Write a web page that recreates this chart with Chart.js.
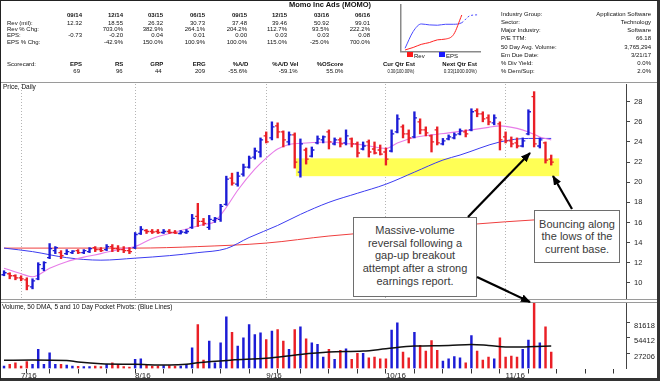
<!DOCTYPE html>
<html>
<head>
<meta charset="utf-8">
<script src="https://cdn.jsdelivr.net/npm/chart.js@4.4.1/dist/chart.umd.min.js"></script>
<style>
html,body{margin:0;padding:0;background:#fff;}
#wrap{position:relative;width:660px;height:381px;overflow:hidden;background:#fff;font-family:"Liberation Sans",Arial,sans-serif;color:#111;}
#wrap canvas{position:absolute;}
.t{position:absolute;white-space:nowrap;line-height:1;}
.hl{position:absolute;left:0;width:660px;height:1px;background:#9a9a9a;}
.box{position:absolute;background:#fff;border:1.5px solid #6e6e6e;box-sizing:border-box;text-align:center;font-size:11px;color:#3a3a3a;}
#frame{position:absolute;left:0;top:0;width:660px;height:381px;box-sizing:border-box;border-left:1px solid #222;border-top:1px solid #222;border-right:3px solid #333;border-bottom:3px solid #333;pointer-events:none;}
</style>
</head>
<body>
<div id="wrap">
  <canvas id="mini" width="90" height="52" style="left:396px;top:2px;width:90px;height:52px"></canvas>
  <canvas id="price" width="660" height="216" style="left:0;top:83px;width:660px;height:216px"></canvas>
  <canvas id="vol" width="660" height="81" style="left:0;top:300px;width:660px;height:81px"></canvas>
  <div class="hl" style="top:82px"></div>
  <div class="hl" style="top:299px"></div>
  <div class="hl" style="top:302px"></div>
  <div class="box" style="left:353px;top:217px;width:124px;height:80px;padding-top:6px;line-height:12.7px">Massive-volume<br>reversal following a<br>gap-up breakout<br>attempt after a strong<br>earnings report.</div>
  <div class="box" style="left:534px;top:210px;width:86px;height:53px;padding-top:6.5px;line-height:12.5px">Bouncing along<br>the lows of the<br>current base.</div>
  <svg width="660" height="381" style="position:absolute;left:0;top:0">
    <defs><marker id="ah" markerWidth="10" markerHeight="8" refX="9" refY="4" orient="auto" markerUnits="userSpaceOnUse"><path d="M0,0 L10,4 L0,8 z" fill="#000"/></marker></defs>
    <line x1="468" y1="217" x2="530" y2="153" stroke="#000" stroke-width="2.2" marker-end="url(#ah)"/>
    <line x1="477" y1="277" x2="530" y2="302" stroke="#000" stroke-width="2.2" marker-end="url(#ah)"/>
    <line x1="572" y1="209" x2="553" y2="176" stroke="#000" stroke-width="2.2" marker-end="url(#ah)"/>
  </svg>
  <div id="frame"></div>
</div>
<script>
// ---------------- DATA ----------------
const quarters = ['09/14','12/14','03/15','06/15','09/15','12/15','03/16','06/16'];
const revMil = [12.32,18.55,26.32,30.73,37.48,39.46,50.92,99.01];
const revChg = ['','703.0%','382.9%','264.1%','204.2%','112.7%','93.5%','222.2%'];
const epsQ = [-0.73,-0.20,0.04,0.01,0.00,0.03,0.03,0.08];
const epsChg = ['','-42.9%','150.0%','100.9%','100.0%','115.0%','-25.0%','700.0%'];
const epsEst = [0.30,0.33];
const scoreLabels = ['EPS','RS','GRP','ERG','%A/D','%A/D Vel','%OScore','Cur Qtr Est','Next Qtr Est'];
const scoreValues = ['69','96','44','209','-55.6%','-59.1%','55.0%','0.30(100.00%)','0.33(1000.00%)'];
const infoLabels = ['Industry Group:','Sector:','Major Industry:','P/E TTM:','50 Day Avg. Volume:','Em Due Date:','% Div Yield:','% Dem/Sup:'];
const infoValues = ['Application Software','Technology','Software','66.18','3,765,294','3/21/17','0.0%','2.0%'];

const dates = [
'06/28','06/29','06/30','07/01','07/05','07/06','07/07','07/08','07/11','07/12',
'07/13','07/14','07/15','07/18','07/19','07/20','07/21','07/22','07/25','07/26',
'07/27','07/28','07/29','08/01','08/02','08/03','08/04','08/05','08/08','08/09',
'08/10','08/11','08/12','08/15','08/16','08/17','08/18','08/19','08/22','08/23',
'08/24','08/25','08/26','08/29','08/30','08/31','09/01','09/02','09/06','09/07',
'09/08','09/09','09/12','09/13','09/14','09/15','09/16','09/19','09/20','09/21',
'09/22','09/23','09/26','09/27','09/28','09/29','09/30','10/03','10/04','10/05',
'10/06','10/07','10/10','10/11','10/12','10/13','10/14','10/17','10/18','10/19',
'10/20','10/21','10/24','10/25','10/26','10/27','10/28','10/31','11/01','11/02',
'11/03','11/04','11/07','11/08','11/09','11/10','11/11',
'11/14','11/15','11/16','11/17','11/18','11/21','11/22','11/23','11/24','11/25','11/28','11/29','11/30','12/01','12/02'];

const open = [10.8,10.9,10.7,10.5,10.3,9.6,10.4,11.4,12.5,13.2,
 13.0,12.9,13.0,13.2,13.0,13.1,13.5,13.3,13.3,13.6,
 13.4,13.3,13.2,13.5,14.9,15.2,15.1,15.1,15.0,15.1,
 15.0,14.9,15.0,15.5,16.6,16.1,15.5,16.2,16.3,17.8,
 20.4,19.8,20.8,21.5,22.5,23.0,24.6,24.4,25.6,25.0,
 24.0,24.7,21.0,23.2,22.6,23.9,24.2,25.0,23.8,24.2,
 23.9,24.3,23.8,23.3,24.0,23.3,23.2,23.0,23.1,25.0,
 25.5,24.8,24.5,26.0,25.2,24.6,25.2,23.8,24.3,24.4,
 24.8,25.0,25.2,27.1,26.8,26.4,25.9,25.8,24.5,24.1,
 23.9,23.6,24.8,28.5,23.6,23.9,22.3];
const high = [11.2,11.0,10.8,10.7,10.5,10.4,12.0,12.1,13.9,13.6,
 13.2,13.3,13.2,13.3,13.3,13.5,13.6,13.5,13.8,13.8,
 13.7,13.6,13.5,15.0,15.6,15.3,15.3,15.3,15.3,15.3,
 15.2,15.2,15.3,16.8,17.9,16.4,16.7,16.5,17.8,20.6,
 20.9,21.0,21.8,22.6,23.4,24.4,25.0,26.0,25.9,25.1,
 25.0,24.9,24.3,23.4,23.5,24.6,24.6,25.2,24.4,24.4,
 25.2,24.4,24.0,24.0,24.2,24.0,23.7,23.4,25.2,26.7,
 25.7,25.2,27.0,26.3,25.5,24.7,25.5,24.35,24.7,24.9,
 25.3,25.2,27.3,27.3,27.0,26.7,26.7,26.0,25.0,24.5,
 24.4,24.4,27.2,29.0,24.4,24.0,22.7];
const low = [10.7,10.4,10.3,10.2,9.3,9.4,10.3,11.2,12.4,12.9,
 12.4,12.8,12.9,12.9,12.9,13.0,13.1,13.1,13.2,13.1,
 13.1,13.0,12.9,13.4,14.8,14.9,14.9,14.9,14.9,14.9,
 14.9,14.85,14.9,15.4,15.6,15.7,15.3,16.0,16.1,17.7,
 19.7,19.6,20.6,21.4,22.3,22.5,23.9,24.2,24.4,23.5,
 23.7,21.4,20.5,21.8,22.5,23.8,23.9,23.3,23.7,23.5,
 23.7,23.5,22.5,23.2,22.5,22.8,22.7,21.7,23.0,24.9,
 24.4,23.9,24.4,24.8,24.6,23.0,23.7,23.7,24.2,24.3,
 24.7,24.5,25.1,26.5,26.0,25.7,25.7,23.2,23.9,23.5,
 23.4,23.5,24.7,23.5,23.4,21.9,21.7];
const close = [11.0,10.7,10.5,10.4,9.7,10.2,11.8,12.0,13.4,13.5,
 12.7,13.1,13.15,13.0,13.2,13.4,13.3,13.2,13.6,13.4,
 13.3,13.2,13.1,14.8,15.3,15.1,15.05,15.0,15.1,15.0,
 14.95,15.05,15.1,16.4,16.1,15.9,16.3,16.4,17.6,20.3,
 19.9,20.6,21.5,22.4,23.1,24.2,24.0,25.5,25.0,24.2,
 24.7,22.0,23.8,22.3,23.2,24.3,24.5,24.0,24.2,23.8,
 24.6,23.8,22.9,23.6,23.0,22.9,22.8,22.3,24.8,26.3,
 24.8,24.4,26.4,25.2,24.9,24.0,23.9,24.1,24.5,24.7,
 25.1,24.8,27.0,26.8,26.3,26.0,26.4,24.2,24.1,23.8,
 23.6,24.1,27.0,23.8,24.2,22.2,22.0];
// volume in hundreds of shares
const volume = [4400,7300,10200,4400,12000,7300,33600,7300,27800,7300,
 7300,6000,4400,4000,3500,3500,4400,3200,7300,10200,
 7300,3500,2500,16100,17200,7300,4400,4400,5000,5000,
 4400,4400,7300,36600,77500,14900,48300,10000,45300,90900,
 64000,39500,54100,77500,60000,62900,51200,65800,68700,48300,
 33600,68700,73400,52300,45300,42400,20200,33600,16100,31900,
 34800,16100,26600,26600,19000,20200,17200,17200,67600,80400,
 29000,19000,64000,40700,30700,49400,31900,13200,17200,20800,
 19000,10200,58200,30700,14900,20200,17200,54100,20200,21900,
 20200,33600,50000,130000,45300,73400,29000];

// moving averages (bar index, value)
const pinkMaIdx = [0,3,5,8,11,14,17,20,23,26,29,32,35,37,39,41,44,46,48,50,53,57,60,63,67,69,72,75,78,82,85,87,90,92,94,96];
const pinkMa = [11.45,10.9,10.6,11.45,12.1,12.55,12.9,13.3,13.6,14.4,14.9,15.35,15.8,16.1,17.5,19.2,21.3,22.4,23.3,23.75,23.9,24.0,23.85,23.7,23.35,23.9,24.45,24.7,24.9,25.2,25.45,25.6,25.35,25.0,24.5,24.2];
const ma50Idx = [0,5,11,17,23,29,34,39,43,48,52,57,62,67,72,77,80,87,92,96];
const ma50 = [13.45,13.1,12.5,12.25,12.45,12.7,13.0,13.4,14.5,15.7,16.8,18.0,18.9,19.8,21.0,22.2,22.7,24.0,24.35,24.35];
const ma200Idx = [0,23,34,46,57,75,83,93,96];
const ma200 = [13.45,13.45,13.6,13.95,14.65,15.5,15.85,16.25,16.3];
const volMaIdx = [0,5,11,13,17,23,29,32,34,40,46,52,57,63,67,72,78,82,85,89,92,96];
const volMa = [14400,14900,14000,11500,8400,7400,6100,7400,10200,14900,17900,24900,29000,30700,34700,39500,40700,42500,40700,37700,38300,39500];

const monthLabels = ['7/16','8/16','9/16','10/16','11/16'];
const priceTicks = [10,12,14,16,18,20,22,24,26,28];
const volTicks = [27206,54412,81618];
const baseZone = {from: 51.2, to: 97.4, low: 20.6, high: 22.37};

// ---------------- HEADER TEXT ----------------
const wrap = document.getElementById('wrap');
function txt(s, x, y, o) {
  o = o || {};
  const size = o.size || 6;
  const d = document.createElement('div');
  d.className = 't';
  d.textContent = s;
  d.style.fontSize = size + 'px';
  if (o.bold) d.style.fontWeight = 'bold';
  if (o.color) d.style.color = o.color;
  d.style.top = (y - size * 0.5) + 'px';
  const align = o.align || 'left';
  let tf = '';
  if (align === 'left') { d.style.left = x + 'px'; d.style.transformOrigin = 'left center'; }
  else if (align === 'right') { d.style.right = (660 - x) + 'px'; d.style.transformOrigin = 'right center'; }
  else { d.style.left = x + 'px'; tf = 'translateX(-50%) '; d.style.transformOrigin = 'center'; }
  wrap.insertBefore(d, document.getElementById('frame'));
  if (o.w) { const w = d.getBoundingClientRect().width; tf += 'scaleX(' + (o.w / w) + ')'; }
  if (tf) d.style.transform = tf;
}
txt('Momo Inc Ads (MOMO)', 330, 5, {bold: true, size: 7.5, align: 'center'});
const colRight = [82,123,163,205,247,287,329,370];
quarters.forEach((q, k) => txt(q, colRight[k], 15, {bold: true, align: 'right'}));
const rowY = [22.5, 29, 35.3, 41.5];
['Rev (mil):','Rev % Chg:','EPS:','EPS % Chg:'].forEach((l, r) => txt(l, 7, rowY[r]));
revMil.forEach((v, k) => txt(v.toFixed(2), colRight[k], rowY[0], {align: 'right'}));
revChg.forEach((v, k) => v && txt(v, colRight[k], rowY[1], {align: 'right'}));
epsQ.forEach((v, k) => txt(v.toFixed(2), colRight[k], rowY[2], {align: 'right'}));
epsChg.forEach((v, k) => v && txt(v, colRight[k], rowY[3], {align: 'right'}));
txt('Scorecard:', 7, 64);
const scLblRight = [82,123.3,163.3,205.7,248.3,298.3,343.3,415,477];
const scValRight = [80,122.7,161.7,205,247.3,297.7,343.3,414,477];
const scValW = [0,0,0,0,0,0,0,27,33];
scoreLabels.forEach((l, k) => txt(l, scLblRight[k], 64, {bold: true, align: 'right'}));
scoreValues.forEach((v, k) => txt(v, scValRight[k], 71.3, {align: 'right', w: scValW[k] || undefined}));
infoLabels.forEach((l, k) => txt(l, 501, 14 + k * 8.15));
infoValues.forEach((v, k) => txt(v, 651, 14 + k * 8.15, {align: 'right'}));
// mini legend
function sq(x, c) { const d = document.createElement('div'); d.style.cssText = 'position:absolute;left:' + x + 'px;top:51.5px;width:6px;height:5.5px;background:' + c; wrap.insertBefore(d, document.getElementById('frame')); }
sq(407, '#ff1a1a'); txt('Rev', 414, 55.5); sq(439, '#1a1aff'); txt('EPS', 446, 55.5);
txt('Price, Daily', 3, 86.8, {size: 6.5});
txt('Volume, 50 DMA, 5 and 10 Day Pocket Pivots: (Blue Lines)', 2, 307.7, {size: 6.5});

// ---------------- CHARTS ----------------
Chart.defaults.font.family = '"Liberation Sans", Arial, sans-serif';
Chart.defaults.color = '#222';
const BLUE = '#1c1cd6', RED = '#ea1f26';
const barColors = close.map((c, i) => c >= (i ? close[i - 1] : open[i]) ? BLUE : RED);
const xMin = -0.53, xMax = 109.12;
const monthIdx = monthLabels.map(l => dates.findIndex(d => parseInt(d, 10) === parseInt(l, 10)));
const dow = d => new Date(2016, parseInt(d.slice(0, 2), 10) - 1, parseInt(d.slice(3), 10)).getDay();
const weekIdx = [];
dates.forEach((d, i) => { if (i > 0 && dow(d) < dow(dates[i - 1]) && i <= xMax) weekIdx.push(i); });
const xTickVals = Array.from(new Set(monthIdx.concat(weekIdx))).sort((a, b) => a - b);
const pts = (idx, vals) => idx.map((x, k) => ({x: x, y: vals[k]}));

const zonePlugin = {
  id: 'zone',
  beforeDatasetsDraw(chart) {
    const {ctx, scales: {x, y}} = chart;
    const x0 = x.getPixelForValue(baseZone.from), x1 = x.getPixelForValue(baseZone.to);
    const y0 = y.getPixelForValue(baseZone.high), y1 = y.getPixelForValue(baseZone.low);
    ctx.save(); ctx.fillStyle = '#ffff55'; ctx.fillRect(x0, y0, x1 - x0, y1 - y0); ctx.restore();
  }
};
const ohlcTicks = {
  id: 'ohlcTicks',
  afterDatasetsDraw(chart) {
    const meta = chart.getDatasetMeta(0);
    const y = chart.scales.y, ctx = chart.ctx;
    ctx.save();
    ctx.lineWidth = 1.3;
    meta.data.forEach((el, i) => {
      const yo = y.getPixelForValue(open[i]), yc = y.getPixelForValue(close[i]);
      ctx.strokeStyle = barColors[i];
      ctx.beginPath();
      ctx.moveTo(el.x - 2.6, yo); ctx.lineTo(el.x, yo);
      ctx.moveTo(el.x, yc); ctx.lineTo(el.x + 2.6, yc);
      ctx.stroke();
    });
    ctx.restore();
  }
};

const commonOpts = {
  responsive: false, animation: false, events: [], devicePixelRatio: 1,
  plugins: {legend: {display: false}, tooltip: {enabled: false}},
};

new Chart(document.getElementById('price'), {
  type: 'bar',
  data: {
    datasets: [
      {type: 'bar', data: close.map((c, i) => ({x: i, y: [low[i], high[i]]})), backgroundColor: barColors, borderWidth: 0, barThickness: 1.7, order: 0},
      {type: 'line', data: pts(pinkMaIdx, pinkMa), borderColor: '#e77de8', borderWidth: 1.1, pointRadius: 0, cubicInterpolationMode: 'monotone', order: 1},
      {type: 'line', data: pts(ma50Idx, ma50), borderColor: '#3c3cf0', borderWidth: 1, pointRadius: 0, cubicInterpolationMode: 'monotone', order: 1},
      {type: 'line', data: pts(ma200Idx, ma200), borderColor: '#ef3f3f', borderWidth: 1, pointRadius: 0, cubicInterpolationMode: 'monotone', order: 1}
    ]
  },
  options: Object.assign({}, commonOpts, {
    layout: {padding: {left: 1, top: 1, right: 0, bottom: 1}, autoPadding: false},
    scales: {
      x: {type: 'linear', min: xMin, max: xMax, bounds: 'data', offset: false,
        afterBuildTicks: s => { s.ticks = monthIdx.map(v => ({value: v})); },
        afterFit: s => { s.height = 0; s.paddingLeft = 0; s.paddingRight = 0; },
        ticks: {display: false, autoSkip: false},
        grid: {offset: false, drawTicks: false, color: '#b4b4b4', lineWidth: 1},
        border: {display: false, dash: [1, 2]}},
      y: {type: 'linear', position: 'right', min: 8.49, max: 29.76, bounds: 'data',
        afterBuildTicks: s => { s.ticks = priceTicks.map(v => ({value: v})); },
        afterFit: s => { s.width = 34; s.paddingTop = 0; s.paddingBottom = 0; },
        ticks: {font: {size: 7.5}, color: '#222', padding: 4, autoSkip: false, callback: v => String(v)},
        grid: {drawOnChartArea: false, drawTicks: true, tickLength: 4, tickColor: '#444'},
        border: {display: true, color: '#444'}}
    }
  }),
  plugins: [zonePlugin, ohlcTicks]
});

new Chart(document.getElementById('vol'), {
  type: 'bar',
  data: {
    datasets: [
      {type: 'bar', data: volume.map((v, i) => ({x: i, y: v})), backgroundColor: barColors, borderWidth: 0, barThickness: 1.8, clip: 0, order: 1},
      {type: 'line', data: pts(volMaIdx, volMa), borderColor: '#111', borderWidth: 1.5, pointRadius: 0, cubicInterpolationMode: 'monotone', order: 0}
    ]
  },
  options: Object.assign({}, commonOpts, {
    layout: {padding: {left: 1, top: 3, right: 0, bottom: 0}, autoPadding: false},
    scales: {
      x: {type: 'linear', min: xMin, max: xMax, bounds: 'data', offset: false,
        afterBuildTicks: s => { s.ticks = xTickVals.map(v => ({value: v})); },
        afterFit: s => { s.height = 12.5; s.paddingLeft = 0; s.paddingRight = 0; },
        ticks: {autoSkip: false, maxRotation: 0, minRotation: 0, padding: -3, align: 'start', font: {size: 8}, color: '#222',
          callback: v => { const k = monthIdx.indexOf(v); return k >= 0 ? monthLabels[k] : ''; }},
        grid: {offset: false, drawOnChartArea: false, drawTicks: true, tickLength: 5,
          tickColor: c => (c.tick && weekIdx.indexOf(c.tick.value) >= 0) ? '#333' : 'rgba(0,0,0,0)'},
        border: {display: false}},
      y: {type: 'linear', position: 'right', min: 0, max: 115500, bounds: 'data',
        afterBuildTicks: s => { s.ticks = volTicks.map(v => ({value: v})); },
        afterFit: s => { s.width = 34; s.paddingTop = 0; s.paddingBottom = 0; },
        ticks: {font: {size: 7.5}, color: '#222', padding: 4, labelOffset: 3.5, autoSkip: false, callback: v => String(v)},
        grid: {drawOnChartArea: false, drawTicks: true, tickLength: 4, tickColor: '#444'},
        border: {display: true, color: '#444'}}
    }
  })
});

new Chart(document.getElementById('mini'), {
  type: 'line',
  data: {
    datasets: [
      {data: revMil.map((v, i) => ({x: i, y: v})), yAxisID: 'yRev', borderColor: '#ff2222', borderWidth: 1, pointRadius: 0, cubicInterpolationMode: 'monotone'},
      {data: epsQ.concat(epsEst).map((v, i) => ({x: i, y: v})), yAxisID: 'yEps', borderColor: '#4a4aff', borderWidth: 1, pointRadius: 0, cubicInterpolationMode: 'monotone',
        segment: {borderDash: c => c.p1DataIndex >= epsQ.length ? [2, 2] : undefined}}
    ]
  },
  options: Object.assign({}, commonOpts, {
    layout: {padding: {left: 5, top: 3, right: 6, bottom: 2.3}, autoPadding: false},
    scales: {
      x: {type: 'linear', min: -0.5, max: 9.25, bounds: 'data', ticks: {display: false},
        grid: {drawOnChartArea: false, drawTicks: false}, border: {display: true, color: '#8a8a8a', width: 1.5},
        afterFit: s => { s.height = 0; }},
      yRev: {type: 'linear', position: 'left', min: 8.1, max: 123.8, bounds: 'data', ticks: {display: false},
        grid: {drawOnChartArea: false, drawTicks: false}, border: {display: true, color: '#8a8a8a', width: 1.5},
        afterFit: s => { s.width = 0; }},
      yEps: {type: 'linear', position: 'right', display: false, min: -0.838, max: 0.64, bounds: 'data'}
    }
  })
});
</script>
</body>
</html>
